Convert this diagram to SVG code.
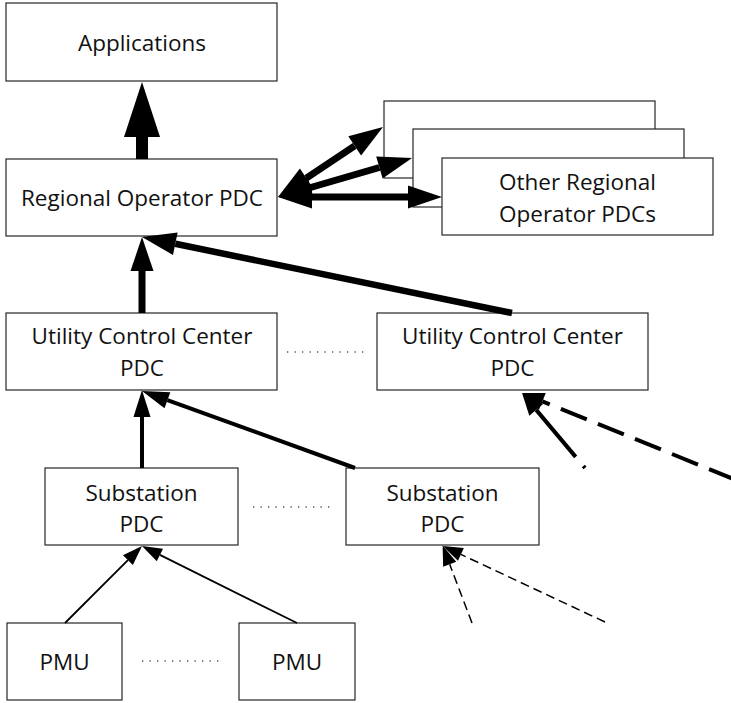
<svg xmlns="http://www.w3.org/2000/svg" width="731" height="703" viewBox="0 0 731 703">
  <style>
    .box { fill: #ffffff; stroke: #262626; stroke-width: 1.2; }
    .lbl { font-family: "Open Sans", "Liberation Sans", sans-serif; font-size: 22.5px; fill: #111111; text-anchor: middle; }
    .dots { stroke: #555555; stroke-width: 1.3; stroke-dasharray: 1.3 6.2; fill: none; }
    .ln { stroke: #000000; fill: none; stroke-linecap: butt; }
  </style>
  <defs>
    <!-- arrowheads: refX at the base so the shaft ends where the head begins -->
    <marker id="hBig" markerUnits="userSpaceOnUse" markerWidth="60" markerHeight="40" refX="0" refY="18" orient="auto-start-reverse" overflow="visible">
      <path d="M0,0 L55,18 L0,36 z" fill="#000"/>
    </marker>
    <marker id="hMed" markerUnits="userSpaceOnUse" markerWidth="40" markerHeight="26" refX="0" refY="11.5" orient="auto-start-reverse" overflow="visible">
      <path d="M0,0 L34,11.5 L0,23 z" fill="#000"/>
    </marker>
    <marker id="hSm" markerUnits="userSpaceOnUse" markerWidth="30" markerHeight="20" refX="0" refY="8.5" orient="auto-start-reverse" overflow="visible">
      <path d="M0,0 L27,8.5 L0,17 z" fill="#000"/>
    </marker>
    <marker id="hDash" markerUnits="userSpaceOnUse" markerWidth="26" markerHeight="20" refX="0" refY="9" orient="auto" overflow="visible">
      <path d="M0,0 L22,9 L0,18 z" fill="#000"/>
    </marker>
    <marker id="hThin" markerUnits="userSpaceOnUse" markerWidth="22" markerHeight="16" refX="0" refY="7" orient="auto" overflow="visible">
      <path d="M0,0 L20,7 L0,14 z" fill="#000"/>
    </marker>
  </defs>

  <!-- nodes -->
  <g id="applications">
    <rect class="box" x="6" y="3" width="271" height="78"/>
    <text class="lbl" x="142" y="51">Applications</text>
  </g>
  <g id="regional-pdc">
    <rect class="box" x="6" y="159" width="271" height="77"/>
    <text class="lbl" x="142" y="206">Regional Operator PDC</text>
  </g>
  <g id="other-regional-pdcs">
    <rect class="box" x="384" y="101" width="271" height="77"/>
    <rect class="box" x="413" y="129" width="271" height="78"/>
    <rect class="box" x="442" y="158" width="271" height="77"/>
    <text class="lbl" x="577.5" y="190">Other Regional</text>
    <text class="lbl" x="577.5" y="222">Operator PDCs</text>
  </g>
  <g id="ucc-pdc-1">
    <rect class="box" x="6" y="313" width="271" height="77"/>
    <text class="lbl" x="142" y="344">Utility Control Center</text>
    <text class="lbl" x="142" y="376">PDC</text>
  </g>
  <g id="ucc-pdc-2">
    <rect class="box" x="377" y="313" width="271" height="77"/>
    <text class="lbl" x="512.5" y="344">Utility Control Center</text>
    <text class="lbl" x="512.5" y="376">PDC</text>
  </g>
  <g id="substation-pdc-1">
    <rect class="box" x="45" y="468" width="193" height="77"/>
    <text class="lbl" x="141.5" y="501">Substation</text>
    <text class="lbl" x="141.5" y="532">PDC</text>
  </g>
  <g id="substation-pdc-2">
    <rect class="box" x="346" y="468" width="193" height="77"/>
    <text class="lbl" x="442.5" y="501">Substation</text>
    <text class="lbl" x="442.5" y="532">PDC</text>
  </g>
  <g id="pmu-1">
    <rect class="box" x="7" y="623" width="115" height="77"/>
    <text class="lbl" x="64.5" y="670">PMU</text>
  </g>
  <g id="pmu-2">
    <rect class="box" x="239" y="623" width="116" height="77"/>
    <text class="lbl" x="297" y="670">PMU</text>
  </g>

  <!-- ellipsis rows between sibling nodes -->
  <g id="ellipses">
    <line class="dots" x1="287" y1="352" x2="364" y2="352"/>
    <line class="dots" x1="253" y1="507" x2="330" y2="507"/>
    <line class="dots" x1="142" y1="661" x2="219" y2="661"/>
  </g>

  <!-- connectors -->
  <g id="connectors">
    <!-- regional PDC to applications -->
    <line class="ln" x1="142" y1="159" x2="142" y2="137" stroke-width="12" marker-end="url(#hBig)"/>
    <!-- utility control centres to regional PDC -->
    <line class="ln" x1="142" y1="313" x2="142" y2="271" stroke-width="7" marker-end="url(#hMed)"/>
    <line class="ln" x1="512" y1="313" x2="175.3" y2="243.8" stroke-width="6.5" marker-end="url(#hMed)"/>
    <!-- regional PDC to peer regional PDCs (bidirectional) -->
    <line class="ln" x1="312" y1="197" x2="408" y2="197" stroke-width="7" marker-start="url(#hMed)" marker-end="url(#hMed)"/>
    <line class="ln" x1="310.6" y1="187.5" x2="379.4" y2="167.5" stroke-width="7" marker-start="url(#hMed)" marker-end="url(#hMed)"/>
    <line class="ln" x1="306.3" y1="178.1" x2="354.7" y2="145.9" stroke-width="7" marker-start="url(#hMed)" marker-end="url(#hMed)"/>
    <!-- substations to utility control centre -->
    <line class="ln" x1="142" y1="468" x2="142" y2="417" stroke-width="4" marker-end="url(#hSm)"/>
    <line class="ln" x1="355" y1="468" x2="167.4" y2="400.2" stroke-width="4" marker-end="url(#hSm)"/>
    <!-- further feeds into the second utility control centre -->
    <line class="ln" x1="585" y1="468" x2="536.2" y2="409.9" stroke-width="4" stroke-dasharray="2.5 12 200" marker-end="url(#hDash)"/>
    <line class="ln" x1="735" y1="479.6" x2="542.4" y2="401.3" stroke-width="4" stroke-dasharray="28 12" marker-end="url(#hDash)"/>
    <!-- PMUs to substation PDC -->
    <line class="ln" x1="65" y1="623" x2="127.9" y2="560.1" stroke-width="1.8" marker-end="url(#hThin)"/>
    <line class="ln" x1="297" y1="623" x2="159.9" y2="554.9" stroke-width="1.8" marker-end="url(#hThin)"/>
    <!-- further feeds into the second substation PDC -->
    <line class="ln" x1="472" y1="623" x2="449.7" y2="564.3" stroke-width="1.5" stroke-dasharray="9 5" marker-end="url(#hThin)"/>
    <line class="ln" x1="605" y1="622" x2="460.9" y2="554.4" stroke-width="1.5" stroke-dasharray="9 5" marker-end="url(#hThin)"/>
  </g>
</svg>
